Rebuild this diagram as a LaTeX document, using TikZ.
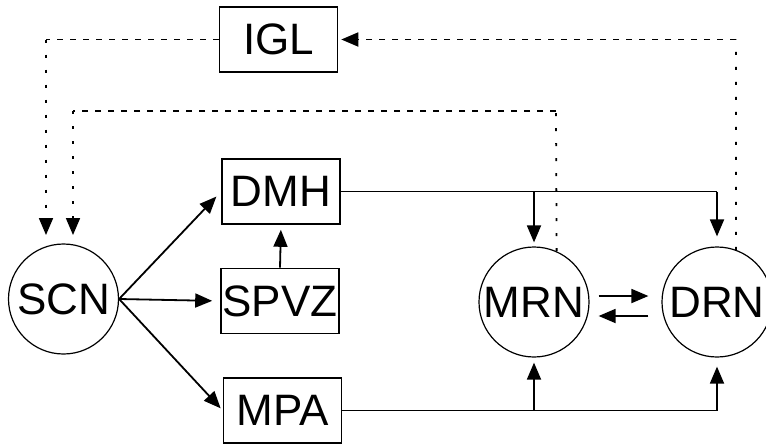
\documentclass[tikz,border=0pt]{standalone}
\usepackage{fontspec}
\setmainfont{Liberation Sans}
\usetikzlibrary{arrows.meta}
\begin{document}
\begin{tikzpicture}[x=1pt,y=-1pt,
 lbl/.style={font=\fontsize{44}{44}\selectfont},
 box/.style={lbl,draw,line width=1.6pt,inner sep=0pt,minimum width=118pt,minimum height=65pt},
 nuc/.style={lbl,draw,circle,line width=1.2pt,inner sep=0pt,minimum size=110pt},
 conn/.style={line width=1.8pt},
 tip/.style={-{Triangle[length=17pt,width=14pt]}},
 hdash/.style={line width=1.8pt,dash pattern=on 6pt off 7pt},
 vdash/.style={line width=1.8pt,dash pattern=on 3pt off 12pt},
]
\useasboundingbox (0,0) rectangle (766,445);
\node[box] (IGL) at (278.5,39.5) {IGL};
\node[box] (DMH) at (281,191.5) {DMH};
\node[box] (SPVZ) at (280,301) {SPVZ};
\node[box] (MPA) at (282.5,410.5) {MPA};
\node[nuc] (SCN) at (63.5,299) {SCN};
\node[nuc] (MRN) at (534,302) {MRN};
\node[nuc] (DRN) at (717,302) {DRN};

% IGL -> SCN
\coordinate (a1) at (46,39.5);
\coordinate (a2) at (46,235);
\draw[hdash] (IGL.west) -- (a1);
\draw[vdash,tip] (a1) -- (a2);
% MRN -> SCN
\coordinate (b1) at (556,111);
\coordinate (b2) at (73,111);
\coordinate (b3) at (73,235);
\draw[vdash] (MRN.66) -- (b1);
\draw[hdash] (b1) -- (b2);
\draw[vdash,tip] (b2) -- (b3);
% DRN -> IGL
\coordinate (d1) at (736,39.5);
\draw[vdash] (DRN.70) -- (d1);
\draw[hdash,tip,shorten >=3pt] (d1) -- (IGL.east);

% DMH -> MRN, DRN
\coordinate (e1) at (534,191.5);
\coordinate (e2) at (717,191.5);
\draw[conn] (DMH.east) -- (e2);
\draw[conn,tip,shorten >=10pt] (e2) -- (DRN.north);
\draw[conn,tip,shorten >=4pt] (e1) -- (MRN.north);

% MPA -> MRN, DRN
\coordinate (f1) at (534,410.5);
\coordinate (f2) at (717,410.5);
\draw[conn] (MPA.east) -- (f2);
\draw[conn,tip,shorten >=9pt] (f2) -- (DRN.south);
\draw[conn,tip,shorten >=5pt] (f1) -- (MRN.south);

% SCN outputs
\draw[conn,tip,shorten >=7pt] (SCN.east) -- (DMH.west);
\draw[conn,tip,shorten >=8pt] (SCN.east) -- (SPVZ.west);
\draw[conn,tip,shorten >=3pt] (SCN.east) -- (MPA.west);
\draw[conn,tip,shorten >=5pt] (SPVZ.north) -- (DMH.south);

% MRN <-> DRN
\draw[conn,tip,shorten <=9pt,shorten >=13pt] ([yshift=6pt]MRN.east) -- ([yshift=6pt]DRN.west);
\draw[conn,tip,shorten <=13pt,shorten >=9pt] ([yshift=-14pt]DRN.west) -- ([yshift=-14pt]MRN.east);
\end{tikzpicture}
\end{document}
